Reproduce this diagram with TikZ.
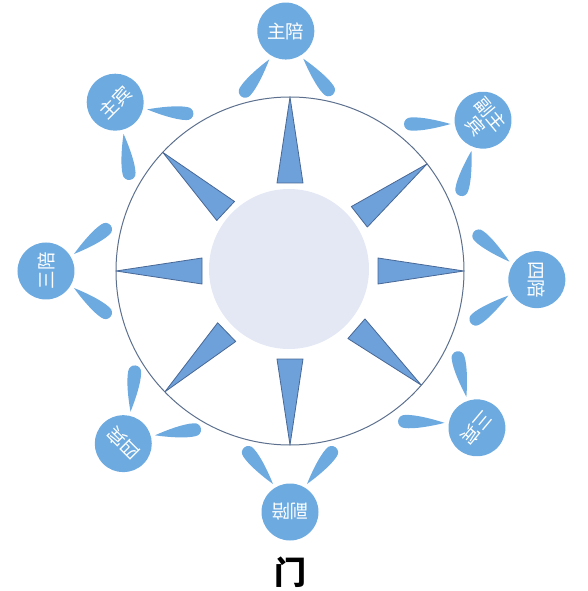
\documentclass[tikz,border=0pt]{standalone}
\usepackage{fontspec}
\newfontfamily\cjk{Noto Sans CJK SC}
\definecolor{seatblue}{RGB}{108,170,224}
\definecolor{spikeblue}{RGB}{110,160,218}
\definecolor{spikeline}{RGB}{72,104,150}
\definecolor{rimline}{RGB}{92,112,142}
\definecolor{hubfill}{RGB}{227,232,244}
\tikzset{
    seat/.style={circle, fill=seatblue, minimum size=57pt, inner sep=0pt, text=white, align=center, font=\cjk\fontsize{18.5}{20}\selectfont},
    spike/.style={fill=spikeblue, draw=spikeline, line width=0.8pt, line join=round},
    pics/chair/.style={code={
        \fill[seatblue, shift={(17,-28)}, rotate=-52] (0,0) .. controls (12,3.5) and (30,7.5) .. (40,6.5) arc[start angle=90, end angle=-90, radius=6.5pt] .. controls (30,-7.5) and (12,-3.5) .. cycle;
        \fill[seatblue, shift={(-17,-28)}, rotate=-128] (0,0) .. controls (12,3.5) and (30,7.5) .. (40,6.5) arc[start angle=90, end angle=-90, radius=6.5pt] .. controls (30,-7.5) and (12,-3.5) .. cycle;
    }}
}
\begin{document}
\begin{tikzpicture}[x=1pt, y=1pt]
        \useasboundingbox (-290,-320) rectangle (297,271);
        \node[circle, draw=rimline, line width=1pt, minimum size=348pt, inner sep=0pt] (rim) at (0,0) {};
        \node[circle, fill=hubfill, minimum size=160pt, inner sep=0pt] (hub) at (-1,2) {};

        \draw[spike, rotate=0] (88,13) -- (88,-13) -- (174,0) -- cycle;
        \draw[spike, rotate=38] (88,13) -- (88,-13) -- (174,0) -- cycle;
        \draw[spike, rotate=90] (88,13) -- (88,-13) -- (174,0) -- cycle;
        \draw[spike, rotate=137] (88,13) -- (88,-13) -- (174,0) -- cycle;
        \draw[spike, rotate=180] (88,13) -- (88,-13) -- (174,0) -- cycle;
        \draw[spike, rotate=224] (88,13) -- (88,-13) -- (174,0) -- cycle;
        \draw[spike, rotate=270] (88,13) -- (88,-13) -- (174,0) -- cycle;
        \draw[spike, rotate=319] (88,13) -- (88,-13) -- (174,0) -- cycle;

        \pic[shift={(91:240)}, rotate=1] {chair};
        \pic[shift={(136:243)}, rotate=46] {chair};
        \pic[shift={(180:244)}, rotate=90] {chair};
        \pic[shift={(226:240)}, rotate=136] {chair};
        \pic[shift={(270:241)}, rotate=180] {chair};
        \pic[shift={(320:244)}, rotate=230] {chair};
        \pic[shift={(358:247)}, rotate=268] {chair};
        \pic[shift={(38:245)}, rotate=-52] {chair};

        \node[seat, rotate=0] (zhupei) at (91:240) {主陪};
        \node[seat, rotate=45] (zhubin) at (136:243) {主宾};
        \node[seat, rotate=90] (sanpei) at (180:244) {三陪};
        \node[seat, rotate=135] (sibin) at (226:240) {四宾};
        \node[seat, rotate=180] (fupei) at (270:241) {副陪};
        \node[seat, rotate=-130] (sanbin) at (320:244) {三宾};
        \node[seat, rotate=-90] (sipei) at (358:247) {四陪};
        \node[seat, rotate=-50] (fuzhubin) at (38:245) {副主\\宾};

        \node[font=\cjk\bfseries\fontsize{32}{34}\selectfont] (door) at (0,-301) {门};
    \end{tikzpicture}
\end{document}
